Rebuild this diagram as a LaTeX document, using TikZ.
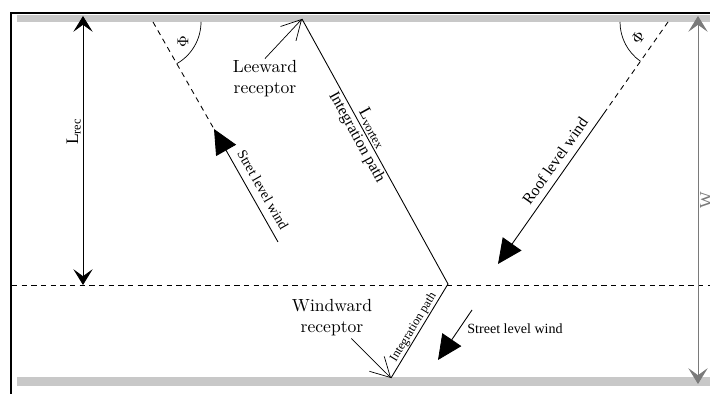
\documentclass[tikz,border=0pt]{standalone}
\usepackage{fontspec}
\usepackage{tikz}
\usetikzlibrary{arrows.meta, positioning}
\newfontfamily\tmsfont{Liberation Serif}
\definecolor{wall}{HTML}{C8C8C8}
\definecolor{dimgrey}{HTML}{7A7A7A}

\begin{document}
\begin{tikzpicture}[
  x=0.02cm, y=0.02cm,
  lbl/.style={font=\tmsfont\fontsize{8}{9}\selectfont, inner sep=1pt},
  rcpt/.style={align=center, font=\normalsize, inner sep=1pt},
  phi/.style={font=\small, inner sep=0pt, rotate=90},
  dimarr/.style={{Stealth[length=9pt, width=11pt, inset=4pt]}-{Stealth[length=9pt, width=11pt, inset=4pt]}, line width=0.5pt},
  windarr/.style={-{Triangle[length=14pt, width=13pt]}, line width=0.5pt},
  rcptarr/.style={-{Straight Barb[length=11pt, width=12pt]}, line width=0.4pt},
  guide/.style={dash pattern=on 3pt off 2.5pt, line width=0.5pt},
]
\useasboundingbox (0,0) rectangle (710,394);

% frame, walls and roof level
\draw[line width=1.2pt] (11,0) -- (11,381) -- (710,381);
\fill[wall] (17,372) rectangle (710,379);
\fill[wall] (17,8) rectangle (710,17);
\draw[guide] (12,109) -- (710,109);

% dimensions
\coordinate (recTop) at (83,378);
\coordinate (recBot) at (83,109);
\coordinate (wTop) at (698,378);
\coordinate (wBot) at (698,10);
\draw[dimarr] (recBot) -- node[pos=0.57, rotate=90, anchor=south, lbl, font=\tmsfont\fontsize{10}{12}\selectfont] (recLbl) {L\textsubscript{rec}} (recTop);
\draw[dimarr, dimgrey] (wBot) -- node[midway, rotate=90, anchor=north, lbl, font=\tmsfont\fontsize{10}{12}\selectfont, text=dimgrey] (wLbl) {W} (wTop);

% street level wind, upper part
\coordinate (swTop) at (153,372);
\coordinate (swTip) at (214,265);
\coordinate (swEnd) at (278,152);
\draw[guide] (swTop) -- (swTip);
\draw[windarr] (swEnd) -- (swTip);
\draw (swTop) ++(0:48) arc[start angle=0, end angle=-60.4, radius=48];
\node[phi] (phiL) at (183,352) {$\Phi$};
\node[lbl, rotate=-60.4] (swLbl) at (263,204) {Stret level wind};

% roof level wind
\coordinate (rwTop) at (668,372);
\coordinate (rwMid) at (607,285);
\coordinate (rwTip) at (498,130);
\draw[guide] (rwTop) -- (rwMid);
\draw[windarr] (rwMid) -- (rwTip);
\draw (rwTop) ++(180:48) arc[start angle=180, end angle=234.9, radius=48];
\node[phi, rotate=-35] (phiR) at (638,356) {$\Phi$};
\node[lbl, font=\tmsfont\fontsize{9}{10}\selectfont, rotate=54.9] (rwLbl) at (555,233) {Roof level wind};

% street level wind, lower part
\coordinate (lwStart) at (472,84);
\coordinate (lwTip) at (438,34);
\draw[windarr] (lwStart) -- (lwTip);
\node[lbl] (lwLbl) at (515,65) {Street level wind};

% vortex integration path
\coordinate (lee) at (302,375);
\coordinate (vtx) at (448,110);
\coordinate (wnd) at (391,16);
\draw[line width=0.5pt] (lee)
  -- node[pos=0.43, sloped, above, lbl, font=\tmsfont\fontsize{10}{12}\selectfont] (vtxLbl) {L\textsubscript{vortex}}
     node[pos=0.43, sloped, below, lbl, font=\tmsfont\fontsize{9}{10}\selectfont] (intLbl) {Integration path} (vtx)
  -- node[pos=0.5, sloped, above, lbl, font=\tmsfont\fontsize{7}{8}\selectfont, inner sep=0.5pt] (intLblB) {Integration path} (wnd);

% receptors
\node[rcpt] (leeLbl) at (265,315) {Leeward\\receptor};
\draw[rcptarr] (leeLbl.north) -- (lee);
\node[rcpt] (wndLbl) at (332,76) {Windward\\receptor};
\draw[rcptarr] ([xshift=11pt]wndLbl.south) -- (wnd);

\end{tikzpicture}
\end{document}
